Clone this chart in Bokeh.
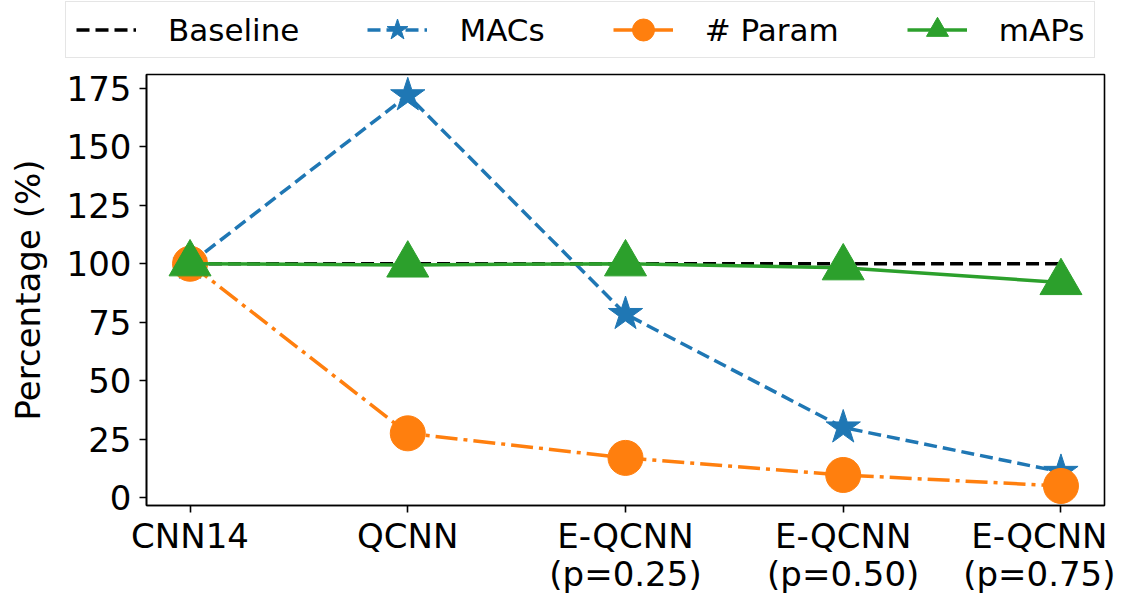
from bokeh.plotting import figure
from bokeh.models import Range1d, FixedTicker, Legend, LegendItem
from bokeh.layouts import column
from bokeh.embed import file_html
from bokeh.resources import INLINE

categories = ["CNN14", "QCNN", "E-QCNN\n(p=0.25)", "E-QCNN\n(p=0.50)", "E-QCNN\n(p=0.75)"]
x_pos = [0, 1, 2, 3, 4]
baseline = [100, 100, 100, 100, 100]
macs = [100, 172, 78.5, 30, 11]
params = [100, 27.5, 17, 9.7, 5]
maps = [100, 99.5, 100, 98.3, 92]
y_ticks = [0, 25, 50, 75, 100, 125, 150, 175]

FONT = "DejaVu Sans"
BLUE, ORANGE, GREEN = "#1f77b4", "#ff7f0e", "#2ca02c"

STYLES = {
    "base": dict(line_color="black", line_width=3.5, line_dash="13 6"),
    "macs": dict(line_color=BLUE, line_width=3.5, line_dash="13 6"),
    "par": dict(line_color=ORANGE, line_width=3.5, line_dash="22 6 4 6"),
    "map": dict(line_color=GREEN, line_width=3.5),
}


def draw_series(fig):
    rb = fig.line(x_pos, baseline, **STYLES["base"])
    rml = fig.line(x_pos, macs, **STYLES["macs"])
    rmm = fig.scatter(x_pos, macs, marker="star", size=36, fill_color=BLUE, line_color=BLUE)
    rpl = fig.line(x_pos, params, **STYLES["par"])
    rpm = fig.scatter(x_pos, params, marker="circle", size=35, fill_color=ORANGE, line_color=ORANGE)
    ral = fig.line(x_pos, maps, **STYLES["map"])
    ram = fig.scatter(x_pos, maps, marker="triangle", size=42, fill_color=GREEN, line_color=GREEN)
    return rb, (rml, rmm), (rpl, rpm), (ral, ram)


LEG_H = 62
MAIN_H = 596 - LEG_H

# main plot
p = figure(width=1115, height=MAIN_H, output_backend="svg", toolbar_location=None,
           x_range=Range1d(-0.2, 4.2), y_range=Range1d(-3.35, 180.9),
           min_border_left=146, min_border_right=11, min_border_top=12, min_border_bottom=86)
p.xgrid.visible = False
p.ygrid.visible = False
p.outline_line_color = "black"
p.outline_line_width = 1.6
draw_series(p)

p.xaxis.ticker = FixedTicker(ticks=x_pos)
p.xaxis.major_label_overrides = {x: c for x, c in zip(x_pos, categories)}
p.yaxis.ticker = FixedTicker(ticks=y_ticks)
p.yaxis.axis_label = "Percentage (%)"
for ax in (p.xaxis, p.yaxis):
    ax.major_label_text_font = FONT
    ax.major_label_text_font_size = "34px"
    ax.major_label_text_color = "black"
    ax.major_label_text_line_height = 0.95
    ax.axis_line_color = "black"
    ax.axis_line_width = 1.6
    ax.major_tick_line_color = "black"
    ax.major_tick_line_width = 1.6
    ax.major_tick_out = 7
    ax.major_tick_in = 0
    ax.minor_tick_line_color = None
p.yaxis.axis_label_text_font = FONT
p.yaxis.axis_label_text_font_size = "34px"
p.yaxis.axis_label_text_font_style = "normal"
p.yaxis.axis_label_text_color = "black"
p.yaxis.axis_label_standoff = 16
p.xaxis.major_label_standoff = 3
p.yaxis.major_label_standoff = 8

# legend strip (series drawn out of view; only the legend shows)
lf = figure(width=1115, height=LEG_H, output_backend="svg", toolbar_location=None,
            x_range=Range1d(1000, 1001), y_range=Range1d(1000, 1001),
            x_axis_type=None, y_axis_type=None,
            min_border_left=0, min_border_right=0, min_border_top=0, min_border_bottom=0)
lf.xgrid.visible = False
lf.ygrid.visible = False
lf.outline_line_color = None
rb, rm, rp, ra = draw_series(lf)

for fig in (lf, p):
    if "frame_align" in fig.properties():
        fig.frame_align = False

legend = Legend(items=[
    LegendItem(label="Baseline", renderers=[rb]),
    LegendItem(label="MACs", renderers=list(rm)),
    LegendItem(label="# Param", renderers=list(rp)),
    LegendItem(label="mAPs", renderers=list(ra)),
], orientation="horizontal", location=(65, 4))
legend.label_text_font = FONT
legend.label_text_font_size = "31px"
legend.label_text_color = "black"
legend.glyph_width = 60
legend.glyph_height = 55
legend.label_height = 40
legend.label_standoff = 32
legend.spacing = 68
legend.padding = (10, 0)
legend.margin = 0
legend.border_line_color = "#cccccc"
legend.border_line_width = 1.6
legend.background_fill_alpha = 0.9
lf.add_layout(legend, "center")

open("out.html", "w").write(file_html(column(lf, p, spacing=0), INLINE))
